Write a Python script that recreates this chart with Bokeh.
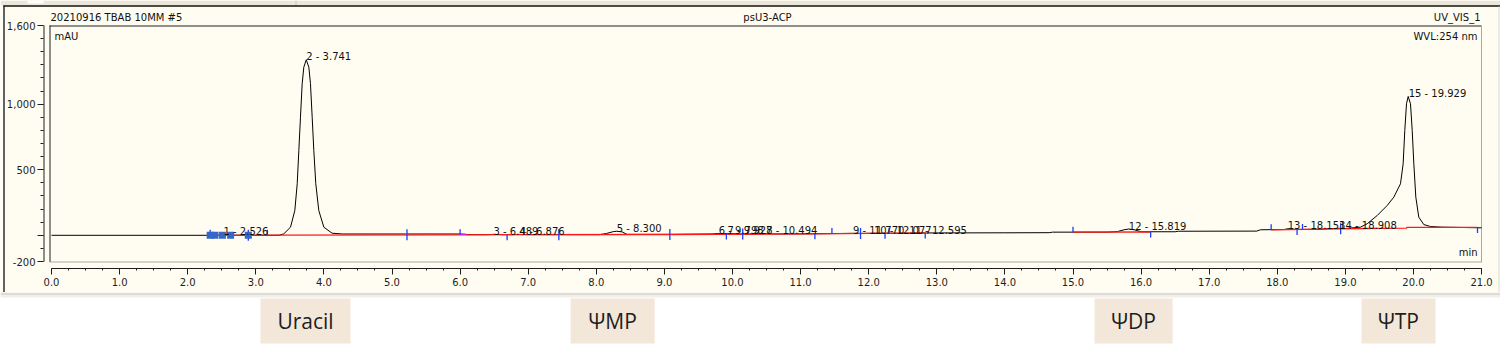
import numpy as np
from bokeh.plotting import figure
from bokeh.layouts import column
from bokeh.models import Range1d, FixedTicker, NumeralTickFormatter, PrintfTickFormatter
from bokeh.core.properties import value
from bokeh.embed import file_html
from bokeh.resources import INLINE

nan = float("nan")

# ---------------- data ----------------
trace_time = [0.00, 2.30, 2.45, 2.526, 2.60, 3.20, 3.34, 3.41, 3.51, 3.573, 3.608, 3.632, 3.656,
              3.681, 3.705, 3.741, 3.779, 3.803, 3.828, 3.852, 3.881, 3.925, 3.999, 4.12, 4.27,
              5.20, 6.00, 6.10, 6.40, 6.489, 6.60, 6.80, 6.876, 7.00, 8.05, 8.15, 8.25, 8.30,
              8.38, 8.45, 9.10, 9.70, 9.798, 9.86, 9.927, 10.10, 10.40, 10.494, 10.60, 11.22,
              11.40, 11.60, 11.770, 11.90, 12.077, 12.25, 12.595, 12.85, 14.00, 14.65, 14.70,
              15.50, 15.65, 15.75, 15.819, 15.90, 16.00, 16.50, 16.55, 17.70, 17.75, 18.10,
              18.153, 18.25, 18.65, 18.70, 18.908, 19.00, 19.222, 19.32, 19.467, 19.613, 19.711,
              19.809, 19.848, 19.872, 19.897, 19.922, 19.956, 19.981, 20.005, 20.034, 20.078,
              20.151, 20.25, 20.42, 21.00]
trace_mau = [0, 0, 1, 4, 1, 0, 0, 11, 62, 189, 393, 647, 901,
             1156, 1282, 1339, 1282, 1156, 901, 647, 393, 189, 62, 16, 10,
             10, 10, 5, 5, 7, 5, 5, 7, 5, 5, 14, 28, 31,
             26, 7, 7, 10, 14, 12, 14, 10, 10, 12, 10, 12,
             13, 14, 15, 14, 16, 15, 16, 18, 19, 20, 24,
             24, 28, 42, 48, 42, 27, 27, 31, 32, 42, 44,
             50, 44, 45, 50, 53, 52, 62, 88, 151, 227, 291,
             393, 545, 799, 1003, 1059, 1003, 799, 545, 291, 138,
             82, 67, 62, 57]

peak_no = [1, 2, 3, 4, 5, 6, 7, 8, 9, 10, 11, 12, 13, 14, 15]
peak_rt = [2.526, 3.741, 6.489, 6.876, 8.300, 9.798, 9.927, 10.494, 11.770, 12.077, 12.595,
           15.819, 18.153, 18.908, 19.929]
peak_mau = [4, 1339, 7, 7, 31, 14, 14, 12, 15, 16, 16, 48, 50, 53, 1059]

baseline_time = [2.33, 3.17, 6.00, 9.08, 11.21, 12.83, nan, 15.00, 16.14, nan,
                 17.91, 18.93, 19.90, 19.90, 20.94]
baseline_mau = [0, 1, 4, 6, 11, 18, nan, 24, 25, nan, 42, 50, 54, 60, 60]

delim_time = [2.33, 2.89, 3.17, 5.22, 6.00, 6.69, 7.45, 9.08, 9.91, 10.15, 11.21, 11.46,
              11.88, 12.24, 12.30, 12.83, 15.00, 16.14, 17.91, 18.29, 18.37, 18.93, 20.94]
delim_mau = [0, 0, 0, 5, 4, 4, 5, 6, 9, 9, 11, 13, 14, 16, 16, 18, 24, 25, 42, 44, 44, 50, 60]
delim_kind = ["u", "b", "u", "b", "u", "d", "b", "b", "d", "b", "d", "u",
              "b", "d", "u", "d", "u", "d", "u", "d", "u", "b", "d"]

marker_time = [2.33, 2.40, 2.51, 2.63, 2.89]
marker_mau = [0, 0, 0, 0, 0]

magenta_time = [6.00, 6.09]
magenta_mau = [8, 8]

x_ticks = list(range(0, 22))
x_minor = [i * 0.25 for i in range(0, 85)]
y_ticks = [-200, 0, 500, 1000, 1600]
y_minor = list(range(-200, 1601, 100))

compound_names = ["Uracil", "ΨMP", "ΨDP", "ΨTP"]
compound_rt = [3.73, 8.24, 15.89, 19.78]

header_left = "20210916 TBAB 10MM #5"
header_center = "psU3-ACP"
header_right = "UV_VIS_1"
y_unit = "mAU"
wavelength = "WVL:254 nm"
x_unit = "min"

# ---------------- layout / style ----------------
W, H_MAIN, H_FOOT = 1500, 292, 60
X0, PXM = 51.0, 68.1        # page px of t=0, px per minute
Y0, PXU = 234.8, 0.1311     # page px of 0 mAU, px per mAU


def tx(px):
    return (px - X0) / PXM


def ty(py):
    return (Y0 - py) / PXU


CREAM = "#FFFDF2"
BAND = "#EDE7DA"
AXC = "#1E1E1E"
LIGHT = "#ABA99F"
FONT = "DejaVu Sans"

xr = Range1d(tx(0), tx(W))
p = figure(width=W, height=H_MAIN, x_range=xr, y_range=Range1d(ty(H_MAIN), ty(0)),
           output_backend="svg", toolbar_location=None, title=None,
           min_border_left=0, min_border_right=0, min_border_top=0, min_border_bottom=0)
p.background_fill_color = CREAM
p.border_fill_color = CREAM
p.outline_line_color = None
p.grid.visible = False

xa = p.xaxis[0]
xa.fixed_location = ty(268)
xa.ticker = FixedTicker(ticks=x_ticks, minor_ticks=x_minor)
xa.formatter = PrintfTickFormatter(format="%.1f")
ya = p.yaxis[0]
ya.fixed_location = tx(43)
ya.ticker = FixedTicker(ticks=y_ticks, minor_ticks=y_minor)
ya.formatter = NumeralTickFormatter(format="0,0")
ya.major_label_overrides = {0: ""}
for ax, mj, mn, so in ((xa, 6, 2, 3), (ya, 6, 3, 2)):
    ax.axis_line_color = None
    ax.major_tick_out = mj
    ax.major_tick_in = 0
    ax.minor_tick_out = mn
    ax.minor_tick_in = 0
    ax.major_tick_line_color = AXC
    ax.minor_tick_line_color = AXC
    ax.major_label_text_font = FONT
    ax.major_label_text_font_size = "10px"
    ax.major_label_text_color = AXC
    ax.major_label_standoff = so

# window decoration: header band, outer top and left edges
p.quad(left=tx(0), right=tx(W), top=ty(0), bottom=ty(5), fill_color=BAND, line_color=None)
p.quad(left=tx(27), right=tx(43), top=ty(0), bottom=ty(3), fill_color="white", line_color=None)
p.segment(x0=tx(295.5), y0=ty(0), x1=tx(295.5), y1=ty(5), line_color="#C9C3B6", line_width=1)
p.segment(x0=tx(3), y0=ty(5.5), x1=tx(W), y1=ty(5.5), line_color="#101010", line_width=1.3)
p.segment(x0=tx(3.5), y0=ty(5), x1=tx(3.5), y1=ty(H_MAIN), line_color="#101010", line_width=1.3)
p.segment(x0=tx(1498.5), y0=ty(6), x1=tx(1498.5), y1=ty(H_MAIN), line_color="#DCD8CE", line_width=1)

# inner frame (sunken)
p.segment(x0=tx(49), y0=ty(25.5), x1=tx(1481), y1=ty(25.5), line_color="#202020", line_width=1)
p.segment(x0=tx(49.5), y0=ty(25), x1=tx(49.5), y1=ty(261.5), line_color="#202020", line_width=1)
p.segment(x0=tx(1481), y0=ty(25), x1=tx(1481), y1=ty(261.5), line_color=LIGHT, line_width=1)
p.segment(x0=tx(49), y0=ty(261.5), x1=tx(1481.5), y1=ty(261.5), line_color=LIGHT, line_width=1)

# own axis lines (detached, Chromeleon style)
p.segment(x0=tx(43.5), y0=-200, x1=tx(43.5), y1=1600, line_color=AXC, line_width=1)
p.segment(x0=0, y0=ty(268), x1=21, y1=ty(268), line_color=AXC, line_width=1)

# chromatogram
p.line(trace_time, trace_mau, line_color="black", line_width=1)
p.line(baseline_time, baseline_mau, line_color="#FF1A1A", line_width=1.3)
p.line(magenta_time, magenta_mau, line_color="#E020E0", line_width=1.3)

L = 5.5 / PXU
d_y0 = [m - L if k in "db" else m for m, k in zip(delim_mau, delim_kind)]
d_y1 = [m + L if k in "ub" else m for m, k in zip(delim_mau, delim_kind)]
p.segment(x0=delim_time, y0=d_y0, x1=delim_time, y1=d_y1, line_color="#1F3BFF", line_width=1.3)
p.scatter(marker_time, marker_mau, marker="square", size=7, fill_color="#3566C8", line_color=None)

labels = [f"{n} - {rt:.3f}" for n, rt in zip(peak_no, peak_rt)]
lab_y = [m + 3 / PXU for m in peak_mau]
p.text(x=peak_rt, y=lab_y, text=labels, text_font=value(FONT), text_font_size="10px",
       text_color="#111111", text_align="left", text_baseline="alphabetic")


def txt(fig, x, y, s, align, size="10px", font=FONT, color="#111111"):
    fig.text(x=[x], y=[y], text=[s], text_font=value(font), text_font_size=size,
             text_color=color, text_align=align, text_baseline="middle")


txt(p, tx(50), ty(16.5), header_left, "left")
txt(p, tx(767), ty(16.5), header_center, "center")
txt(p, tx(1480), ty(16.5), header_right, "right")
txt(p, tx(54), ty(36), y_unit, "left")
txt(p, tx(1477), ty(36), wavelength, "right")
txt(p, tx(1477), ty(252), x_unit, "right")

# ---------------- footer with compound labels ----------------
f = figure(width=W, height=H_FOOT, x_range=xr, y_range=Range1d(352, 292),
           output_backend="svg", toolbar_location=None, title=None,
           x_axis_location=None, y_axis_location=None,
           min_border_left=0, min_border_right=0, min_border_top=0, min_border_bottom=0)
f.background_fill_color = "white"
f.border_fill_color = "white"
f.outline_line_color = None
f.grid.visible = False
f.quad(left=tx(0), right=tx(W), top=292, bottom=294.5, fill_color="#DFDBD1", line_color=None)
f.quad(left=tx(0), right=tx(W), top=294.5, bottom=297, fill_color="#F1EFEA", line_color=None)
box_w = [90, 84, 78, 74]
f.rect(x=compound_rt, y=[320.5] * 4, width=box_w, height=[45] * 4, width_units="screen",
       fill_color="#F3E7D9", line_color=None)
f.text(x=compound_rt, y=[320.5] * 4, text=compound_names, text_font=value("Open Sans"),
       text_font_size="21px", text_color="#1E1E1E", text_align="center", text_baseline="middle")

layout = column(p, f, spacing=0)
open("out.html", "w").write(file_html(layout, INLINE))
